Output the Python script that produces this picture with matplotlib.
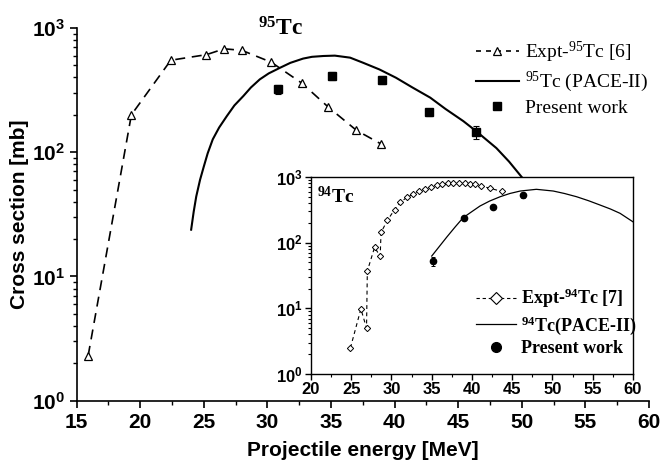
import matplotlib
matplotlib.use("Agg")
import matplotlib.pyplot as plt
from matplotlib.lines import Line2D
from matplotlib.ticker import LogLocator, NullFormatter, FixedLocator, FixedFormatter, MultipleLocator

plt.rcParams['mathtext.fontset'] = 'custom'
plt.rcParams['mathtext.rm'] = 'Liberation Serif'
plt.rcParams['mathtext.bf'] = 'Liberation Serif:bold'
plt.rcParams['mathtext.it'] = 'Liberation Serif:italic'
plt.rcParams['mathtext.sf'] = 'Liberation Sans:bold'

# ---- 95Tc (main panel) ----
expt95_energy = [15.9, 19.3, 22.4, 25.2, 26.6, 28.0, 30.3, 32.7, 34.8, 37.0, 38.9]
expt95_xs = [2.3, 200, 550, 610, 680, 660, 530, 360, 230, 150, 117]

present95_energy = [30.8, 35.1, 39.0, 42.7, 46.4]
present95_xs = [320, 410, 380, 210, 145]
present95_err = [28, 30, 28, 14, 18]

pace95_energy = [24.0, 24.2, 24.4, 24.7, 25.0, 25.3, 25.7, 26.2, 26.8, 27.4, 28.1, 28.7,
                 29.4, 30.1, 31.0, 31.8, 32.8, 33.5, 34.4, 35.3, 36.5, 37.5, 38.8,
                 40.1, 41.4, 42.8, 44.0, 45.4, 46.4, 48.0, 49.0, 50.0]
pace95_xs = [23.8, 33.2, 44, 60, 77, 98, 127, 158, 195, 238, 283, 332,
             386, 431, 479, 524, 567, 586, 595, 599, 577, 526, 464,
             398, 332, 275, 223, 178, 148, 108, 84, 63]

# ---- 94Tc (inset) ----
expt94_energy = [24.9, 26.2, 26.9, 27.0, 27.9, 28.6, 28.7, 29.5, 30.4, 31.1, 31.9, 32.7,
                 33.4, 34.2, 34.9, 35.6, 36.3, 37.0, 37.7, 38.4, 39.1, 39.8, 40.4, 41.1,
                 42.3, 43.7]
expt94_xs = [2.5, 9.8, 5.0, 37, 85, 62, 143, 220, 320, 410, 490, 550,
             620, 660, 710, 745, 770, 800, 800, 800, 800, 780, 770, 735,
             670, 605]

present94_energy = [35.1, 39.0, 42.6, 46.4]
present94_xs = [52, 240, 350, 530]
present94_err = [8, 18, 22, 50]

pace94_energy = [35.0, 36.9, 37.9, 38.9, 40.0, 41.0, 42.2, 43.5, 44.7, 46.0, 48.0, 50.1,
                 51.5, 53.0, 54.5, 55.9, 57.2, 58.4, 60.0]
pace94_xs = [62.6, 123, 173, 240, 298, 362, 431, 501, 561, 612, 650, 612,
             561, 501, 435, 375, 326, 280, 208]

main_xticks = [15, 20, 25, 30, 35, 40, 45, 50, 55, 60]
inset_xticks = [20, 25, 30, 35, 40, 45, 50, 55, 60]
log_ticks = [1, 10, 100, 1000]
log_labels = [r'$\mathsf{10^{0}}$', r'$\mathsf{10^{1}}$', r'$\mathsf{10^{2}}$', r'$\mathsf{10^{3}}$']

SANS = 'Liberation Sans'
SERIF = 'Liberation Serif'

fig = plt.figure(figsize=(6.6, 4.61), dpi=100)
ax = fig.add_axes([0.1162, 0.1308, 0.8671, 0.8085])

expt_style = dict(color='black', lw=1.2, marker='^', ms=6, mfc='white', mec='black', mew=0.9)
ax.plot(expt95_energy, expt95_xs, dashes=(6, 4), **expt_style)
ax.plot(pace95_energy, pace95_xs, color='black', lw=1.5)
ax.errorbar(present95_energy, present95_xs, yerr=present95_err, fmt='s', ms=5.5,
            color='black', ecolor='black', elinewidth=0.8, capsize=2, capthick=0.8)

ax.set_yscale('log')
ax.set_xlim(15, 60)
ax.set_ylim(1, 1000)
for s in ['top', 'right']:
    ax.spines[s].set_visible(False)
for s in ['left', 'bottom']:
    ax.spines[s].set_linewidth(1.2)

ax.xaxis.set_major_locator(FixedLocator(main_xticks))
ax.xaxis.set_minor_locator(MultipleLocator(2.5))
ax.yaxis.set_major_locator(FixedLocator(log_ticks))
ax.yaxis.set_major_formatter(FixedFormatter(log_labels))
ax.yaxis.set_minor_locator(LogLocator(base=10, subs=range(2, 10)))
ax.yaxis.set_minor_formatter(NullFormatter())
ax.tick_params(which='major', direction='out', length=5, width=1.2, labelsize=15)
ax.tick_params(which='minor', direction='out', length=3, width=1.0)
for lab in ax.get_xticklabels():
    lab.set_fontfamily(SANS)
    lab.set_fontweight('bold')

ax.set_xlabel('Projectile energy [MeV]', fontsize=15, fontweight='bold', family=SANS, labelpad=7)
ax.set_ylabel('Cross section [mb]', fontsize=15, fontweight='bold', family=SANS, labelpad=2)

h1 = Line2D([], [], dashes=(3, 3), **expt_style)
h2 = Line2D([], [], color='black', lw=1.5)
h3 = Line2D([], [], ls='none', marker='s', ms=5.5, color='black')
ax.legend([h1, h2, h3],
          [r'Expt-$^{95}$Tc [6]', r'$^{95}$Tc (PACE-II)', 'Present work'],
          loc='upper left', bbox_to_anchor=(476 / 660, 1 - 40 / 461),
          bbox_transform=fig.transFigure, frameon=False, borderpad=0,
          borderaxespad=0, handlelength=2.2, handletextpad=0.3,
          labelspacing=0.25, prop={'family': SERIF, 'size': 14})

fig.text(280 / 660, 1 - 35 / 461, r'$^{\mathbf{95}}$Tc', ha='center', va='baseline',
         fontsize=17, fontweight='bold', family=SERIF)

# ---- inset ----
ins = fig.add_axes([0.4712, 0.1887, 0.4878, 0.4273])
ins.set_facecolor('white')
ins.plot(expt94_energy, expt94_xs, color='black', lw=0.8, marker='D', ms=3.2,
         mfc='white', mec='black', mew=0.7, dashes=(3.5, 3))
ins.plot(pace94_energy, pace94_xs, color='black', lw=0.9)
ins.errorbar(present94_energy, present94_xs, yerr=present94_err, fmt='o', ms=4.5,
             color='black', ecolor='black', elinewidth=0.7, capsize=1.5, capthick=0.7)
ins.set_yscale('log')
ins.set_xlim(20, 60)
ins.set_ylim(1, 1000)
for s in ins.spines.values():
    s.set_linewidth(1.0)
ins.xaxis.set_major_locator(FixedLocator(inset_xticks))
ins.xaxis.set_minor_locator(MultipleLocator(2.5))
ins.yaxis.set_major_locator(FixedLocator(log_ticks))
ins.yaxis.set_major_formatter(FixedFormatter(log_labels))
ins.yaxis.set_minor_locator(LogLocator(base=10, subs=range(2, 10)))
ins.yaxis.set_minor_formatter(NullFormatter())
ins.tick_params(which='major', direction='out', length=4, width=1.0, labelsize=12, pad=2)
ins.tick_params(which='minor', direction='out', length=2, width=0.8)
for lab in ins.get_xticklabels():
    lab.set_fontfamily(SANS)
    lab.set_fontweight('bold')

ins.text(6 / 322, 1 - 26.3 / 197, r'$^{\mathbf{94}}$Tc', transform=ins.transAxes,
         ha='left', va='baseline', fontsize=14, fontweight='bold', family=SERIF)

g1 = Line2D([], [], color='black', lw=0.8, marker='D', ms=6, mfc='white', mec='black',
            mew=0.8, dashes=(3, 2.5))
g2 = Line2D([], [], color='black', lw=0.9)
g3 = Line2D([], [], ls='none', marker='o', ms=7, color='black')
ins.legend([g1, g2, g3],
           [r'Expt-$^{\mathbf{94}}$Tc [7]', r'$^{\mathbf{94}}$Tc(PACE-II)', 'Present work'],
           loc='upper left', bbox_to_anchor=(476 / 660, 1 - 287 / 461),
           bbox_transform=fig.transFigure, frameon=False, borderpad=0,
           borderaxespad=0, handlelength=2.2, handletextpad=0.3,
           labelspacing=0.2, prop={'family': SERIF, 'size': 13, 'weight': 'bold'})

fig.savefig('out.png', dpi=100)
